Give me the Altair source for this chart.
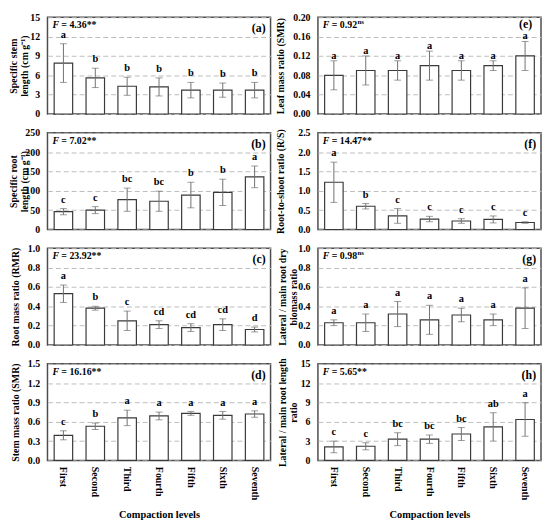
import altair as alt
import pandas as pd

levels = ["First", "Second", "Third", "Fourth", "Fifth", "Sixth", "Seventh"]

# (a) Specific stem length
a_mean = [7.9, 5.6, 4.3, 4.2, 3.7, 3.7, 3.7]
a_err = [3.0, 1.5, 1.4, 1.4, 1.2, 1.1, 1.2]
a_let = ["a", "b", "b", "b", "b", "b", "b"]
# (b) Specific root length
b_mean = [46, 50, 77, 73, 89, 96, 136]
b_err = [8, 9, 30, 26, 33, 34, 28]
b_let = ["c", "c", "bc", "bc", "b", "b", "a"]
# (c) Root mass ratio
c_mean = [0.53, 0.38, 0.25, 0.21, 0.18, 0.21, 0.16]
c_err = [0.09, 0.02, 0.10, 0.04, 0.04, 0.06, 0.025]
c_let = ["a", "b", "c", "cd", "cd", "cd", "d"]
# (d) Stem mass ratio
d_mean = [0.39, 0.53, 0.66, 0.69, 0.73, 0.70, 0.72]
d_err = [0.07, 0.05, 0.12, 0.06, 0.03, 0.06, 0.05]
d_let = ["c", "b", "a", "a", "a", "a", "a"]
# (e) Leaf mass ratio
e_mean = [0.08, 0.09, 0.09, 0.10, 0.09, 0.10, 0.12]
e_err = [0.03, 0.03, 0.02, 0.03, 0.02, 0.01, 0.03]
e_let = ["a", "a", "a", "a", "a", "a", "a"]
# (f) Root-to-shoot ratio
f_mean = [1.22, 0.60, 0.35, 0.27, 0.22, 0.26, 0.18]
f_err = [0.52, 0.07, 0.19, 0.07, 0.06, 0.09, 0.02]
f_let = ["a", "b", "c", "c", "c", "c", "c"]
# (g) Lateral / main root dry biomass ratio
g_mean = [0.23, 0.23, 0.32, 0.26, 0.31, 0.26, 0.38]
g_err = [0.03, 0.09, 0.13, 0.15, 0.07, 0.06, 0.21]
g_let = ["a", "a", "a", "a", "a", "a", "a"]
# (h) Lateral / main root length ratio
h_mean = [2.1, 2.2, 3.3, 3.3, 4.1, 5.2, 6.35]
h_err = [0.9, 0.55, 1.0, 0.65, 1.0, 2.2, 2.6]
h_let = ["c", "c", "bc", "bc", "bc", "ab", "a"]

FONT = "Liberation Serif"
W, H = 226, 98


def panel(mean, err, letters, ymax, step, title, tpad, fnum, sig, label, bottom,
          label_y=15, label_dx=5, let_dy=-6):
    df = pd.DataFrame({
        "level": levels,
        "mean": mean,
        "lo": [m - e for m, e in zip(mean, err)],
        "hi": [m + e for m, e in zip(mean, err)],
        "letter": letters,
    })
    n = int(round(ymax / step))
    vals = [round(i * step, 4) for i in range(n + 1)]
    if bottom:
        xaxis = alt.Axis(labelAngle=90, title="Compaction levels", ticks=False, domain=False,
                         labelFont=FONT, labelFontWeight="bold", labelFontSize=10,
                         labelColor="#000", labelPadding=6, titleFont=FONT,
                         titleFontWeight="bold", titleFontSize=10.5, titleColor="#000",
                         titlePadding=10)
    else:
        xaxis = None
    x = alt.X("level:N", sort=levels, axis=xaxis,
              scale=alt.Scale(paddingInner=0.42, paddingOuter=0.21))
    ys = alt.Scale(domain=[0, ymax], nice=False, zero=True)
    yaxis = alt.Axis(values=vals, tickCount=len(vals) + 2, title=title, ticks=False,
                     domain=False, grid=True,
                     gridDash=[5, 3], gridColor="#bdbdbd", gridWidth=1,
                     labelOverlap=False, labelFlush=False,
                     labelFont=FONT, labelFontWeight="bold", labelFontSize=10,
                     labelColor="#000", labelPadding=8, minExtent=18, maxExtent=18,
                     titleFont=FONT, titleFontWeight="bold", titleFontSize=10,
                     titleColor="#000", titlePadding=tpad, titleLineHeight=11)
    base = alt.Chart(df)
    bars = base.mark_bar(fill="white", stroke="#3a3a3a", strokeWidth=1.2).encode(
        x=x, y=alt.Y("mean:Q", scale=ys, axis=yaxis))
    rule = base.mark_rule(color="#707070", strokeWidth=1).encode(
        x=x, y=alt.Y("lo:Q", scale=ys), y2="hi:Q")
    cap_lo = base.mark_tick(color="#707070", size=7, thickness=1).encode(
        x=x, y=alt.Y("lo:Q", scale=ys))
    cap_hi = base.mark_tick(color="#707070", size=7, thickness=1).encode(
        x=x, y=alt.Y("hi:Q", scale=ys))
    txt = base.mark_text(font=FONT, fontWeight="bold", fontSize=10.5, color="#000",
                         baseline="alphabetic", dy=let_dy).encode(
        x=x, y=alt.Y("hi:Q", scale=ys), text="letter:N")
    num = "= " + fnum + ("**" if sig == "**" else "")
    lab = pd.DataFrame({"t": [label], "f": ["F"], "num": [num], "ns": ["ns"]})
    lb = alt.Chart(lab)
    ftxt = lb.mark_text(font=FONT, fontWeight="bold", fontStyle="italic", fontSize=10,
                        color="#000", align="left", baseline="alphabetic").encode(
        x=alt.value(5), y=alt.value(11), text="f:N")
    ntxt = lb.mark_text(font=FONT, fontWeight="bold", fontSize=10, color="#000",
                        align="left", baseline="alphabetic").encode(
        x=alt.value(14), y=alt.value(11), text="num:N")
    ptxt = lb.mark_text(font=FONT, fontWeight="bold", fontSize=12, color="#000",
                        align="right", baseline="alphabetic").encode(
        x=alt.value(W - label_dx), y=alt.value(label_y), text="t:N")
    layers = [bars, rule, cap_lo, cap_hi, txt, ftxt, ntxt, ptxt]
    if sig == "ns":
        stxt = lb.mark_text(font=FONT, fontWeight="bold", fontSize=7, color="#000",
                            align="left", baseline="alphabetic").encode(
            x=alt.value(40), y=alt.value(7), text="ns:N")
        layers.append(stxt)
    return alt.layer(*layers).properties(width=W, height=H)


pa = panel(a_mean, a_err, a_let, 15, 3, ["Specific stem", "length (cm g⁻¹)"], 0, "4.36", "**", "(a)", False)
pe = panel(e_mean, e_err, e_let, 0.2, 0.04, "Leaf mass ratio (SMR)", 15, "0.92", "ns", "(e)", False,
           label_y=11, label_dx=9, let_dy=-2)
pb = panel(b_mean, b_err, b_let, 250, 50, ["Specific root", "length (cm g⁻¹)"], 0, "7.02", "**", "(b)", False)
pf = panel(f_mean, f_err, f_let, 2.5, 0.5, "Root-to-shoot ratio (R/S)", 15, "14.47", "**", "(f)", False)
pc = panel(c_mean, c_err, c_let, 1, 0.2, "Root mass ratio (RMR)", 9, "23.92", "**", "(c)", False)
pg = panel(g_mean, g_err, g_let, 1, 0.2, ["Lateral / main root dry", "biomass ratio"], 2, "0.98", "ns", "(g)", False)
pd_ = panel(d_mean, d_err, d_let, 1.5, 0.3, "Stem mass ratio (SMR)", 9, "16.16", "**", "(d)", True)
ph = panel(h_mean, h_err, h_let, 15, 3, ["Lateral / main root length", "ratio"], 2, "5.65", "**", "(h)", True)

chart = alt.concat(pa, pe, pb, pf, pc, pg, pd_, ph, columns=2,
                   spacing=alt.RowColnumber(column=48, row=19), bounds="flush").properties(
    padding={"left": 0, "top": 0, "right": 0, "bottom": 0},
    background="white",
).configure_view(stroke="#4d4d4d", strokeWidth=1.5)

chart.save("out.html", embed_options={"renderer": "svg", "actions": False})
